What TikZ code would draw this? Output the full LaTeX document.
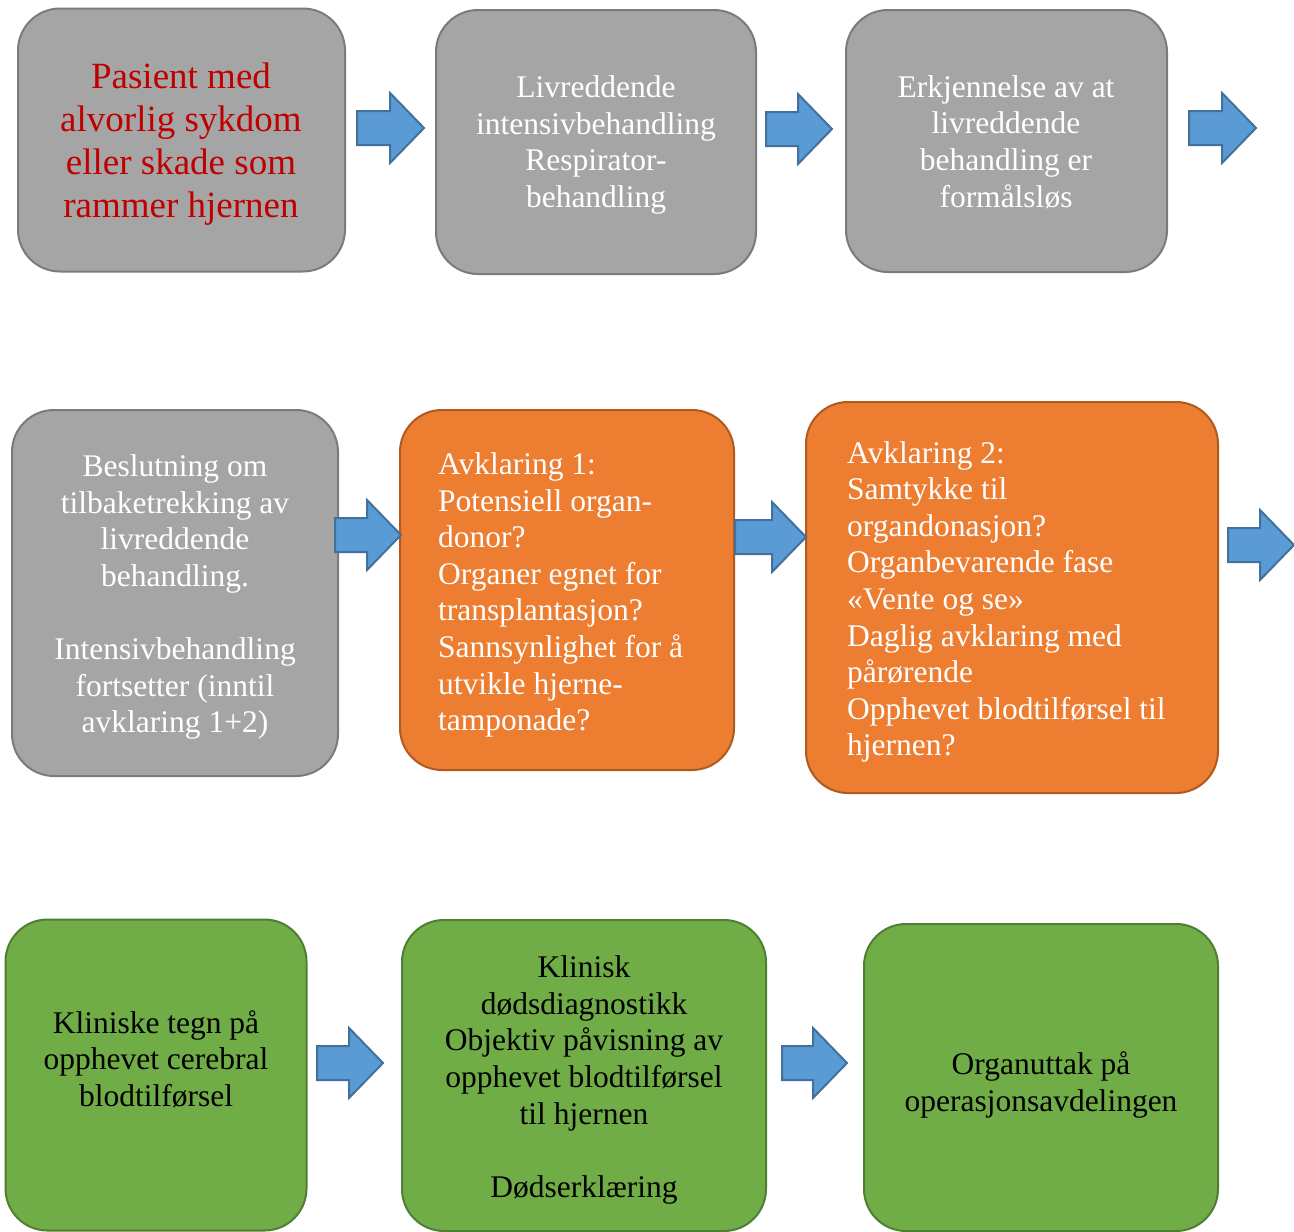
\documentclass[tikz,border=0pt]{standalone}
\usepackage{fontspec}
\setmainfont{Liberation Serif}
\definecolor{grayfill}{HTML}{A5A5A5}
\definecolor{graydraw}{HTML}{7B7B7B}
\definecolor{orfill}{HTML}{ED7D31}
\definecolor{ordraw}{HTML}{AE5A21}
\definecolor{grfill}{HTML}{70AD47}
\definecolor{grdraw}{HTML}{507E32}
\definecolor{blfill}{HTML}{5B9BD5}
\definecolor{bldraw}{HTML}{41719C}
\definecolor{redtxt}{HTML}{C00000}
\begin{document}
\begin{tikzpicture}[x=1pt,y=-1pt,
  box/.style={rectangle, rounded corners=42pt, line width=2pt, inner sep=0pt, outer sep=0pt},
  graybox/.style={box, fill=grayfill, draw=graydraw},
  orbox/.style={box, fill=orfill, draw=ordraw},
  grbox/.style={box, fill=grfill, draw=grdraw},
  txt/.style={font=\fontsize{31.5}{36.6}\selectfont, align=center, inner sep=0pt, text=white},
  ltxt/.style={txt, align=left, anchor=west},
  arrowst/.style={fill=blfill, draw=bldraw, line width=2pt, line join=miter},
  blockarrow/.pic={\draw[arrowst] (-#1,-17) -- (0,-17) -- (0,-35) -- (34,0) -- (0,35) -- (0,17) -- (-#1,17) -- cycle;}
]
\useasboundingbox (0,0) rectangle (1294,1232);
\fill[white] (0,0) rectangle (1294,1232);

% Row 1
\node[graybox, minimum width=327pt, minimum height=263pt] (b1) at (181.5,140) {};
\node[graybox, minimum width=320pt, minimum height=264pt] (b2) at (596,142) {};
\node[graybox, minimum width=321pt, minimum height=262pt] (b3) at (1006.5,141) {};
\node[txt, text=redtxt, font=\fontsize{37}{43}\selectfont] (t1) at (181,144)
  {Pasient med\\alvorlig sykdom\\eller skade som\\rammer hjernen};
\node[txt] (t2) at (596,145) {Livreddende\\intensivbehandling\\Respirator-\\behandling};
\node[txt] (t3) at (1006,142) {Erkjennelse av at\\livreddende\\behandling er\\formålsløs};
\pic (a1) at (390,128) {blockarrow=33};
\pic (a2) at (798,129) {blockarrow=32};
\pic (a3) at (1222,128) {blockarrow=33};

% Row 2
\node[graybox, minimum width=326pt, minimum height=366pt] (b4) at (175,593) {};
\node[orbox, minimum width=334pt, minimum height=360pt] (b5) at (567,590) {};
\node[orbox, minimum width=412pt, minimum height=391pt] (b6) at (1012,597.5) {};
\node[txt] (t4) at (175,597) {Beslutning om\\tilbaketrekking av\\livreddende\\behandling.\\\mbox{}\\Intensivbehandling\\fortsetter (inntil\\avklaring 1+2)};
\node[ltxt] (t5) at (438,595) {Avklaring 1:\\Potensiell organ-\\donor?\\Organer egnet for\\transplantasjon?\\Sannsynlighet for å\\utvikle hjerne-\\tamponade?};
\node[ltxt] (t6) at (847,602) {Avklaring 2:\\Samtykke til\\organdonasjon?\\Organbevarende fase\\«Vente og se»\\Daglig avklaring med\\pårørende\\Opphevet blodtilførsel til\\hjernen?};
\pic (a4) at (367,535) {blockarrow=32};
\pic (a5) at (772,537) {blockarrow=37};
\pic (a6) at (1260,545) {blockarrow=32};

% Row 3
\node[grbox, minimum width=301pt, minimum height=311pt] (b7) at (156,1075) {};
\node[grbox, minimum width=364pt, minimum height=311pt] (b8) at (584,1075.5) {};
\node[grbox, minimum width=354pt, minimum height=307pt] (b9) at (1041,1077.5) {};
\node[txt, text=black] (t7) at (156,1059) {Kliniske tegn på\\opphevet cerebral\\blodtilførsel};
\node[txt, text=black] (t8) at (584,1080) {Klinisk\\dødsdiagnostikk\\Objektiv påvisning av\\opphevet blodtilførsel\\til hjernen\\\mbox{}\\Dødserklæring};
\node[txt, text=black] (t9) at (1041,1085) {Organuttak på\\operasjonsavdelingen};
\pic (a7) at (349,1063) {blockarrow=32};
\pic (a8) at (813,1063) {blockarrow=31};
\end{tikzpicture}
\end{document}
